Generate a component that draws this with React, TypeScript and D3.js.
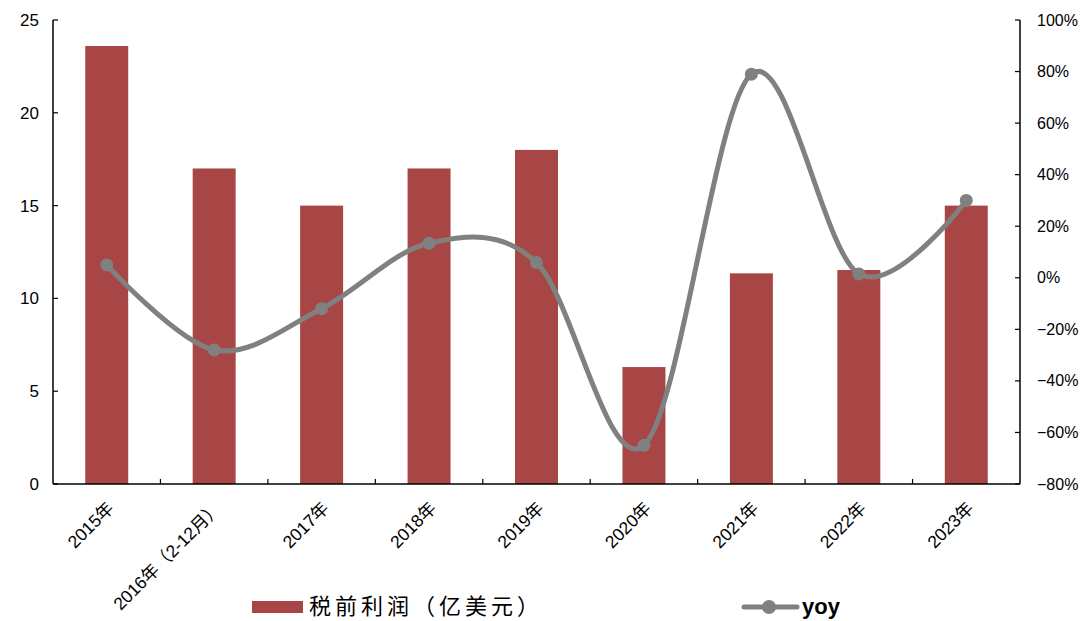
import React from "react";
import * as d3 from "d3";

const categories = [
  "2015年",
  "2016年（2-12月）",
  "2017年",
  "2018年",
  "2019年",
  "2020年",
  "2021年",
  "2022年",
  "2023年",
];
const profit = [23.6, 17, 15, 17, 18, 6.3, 11.35, 11.53, 15];
const yoy = [5.0, -28, -12, 13.4, 5.9, -65, 79, 1.5, 30];
const leftTicks = [0, 5, 10, 15, 20, 25];
const rightTicks = [-80, -60, -40, -20, 0, 20, 40, 60, 80, 100];
const barLabel = "税前利润（亿美元）";
const lineLabel = "yoy";

const W = 1082;
const H = 621;
const left = 53;
const right = 1020;
const top = 20;
const bottom = 484;

const BAR = "#A84646";
const LINE = "#808080";

export default function App() {
  const xb = d3.scaleBand<string>().domain(categories).range([left, right]);
  const yL = d3.scaleLinear().domain([0, 25]).range([bottom, top]);
  const yR = d3.scaleLinear().domain([-80, 100]).range([bottom, top]);
  const cx = (c: string) => (xb(c) as number) + xb.bandwidth() / 2;
  const barW = xb.bandwidth() * 0.4;

  const line = d3
    .line<number>()
    .x((_, i) => cx(categories[i]))
    .y((d) => yR(d))
    .curve(d3.curveCardinal.tension(0));

  const numFont = "'Liberation Sans', Arial, sans-serif";
  const cjkFont = "'Liberation Sans', 'Noto Sans CJK SC', sans-serif";

  return (
    <svg
      width={W}
      height={H}
      style={{ position: "absolute", left: 0, top: 0, display: "block", background: "#fff" }}
    >
      {/* bars */}
      {profit.map((v, i) => (
        <rect
          key={i}
          x={cx(categories[i]) - barW / 2}
          y={yL(v)}
          width={barW}
          height={bottom - yL(v)}
          fill={BAR}
        />
      ))}

      {/* axes */}
      <line x1={left} x2={left} y1={top} y2={bottom} stroke="#000" strokeWidth={1.5} />
      <line x1={right} x2={right} y1={top} y2={bottom} stroke="#000" strokeWidth={1.5} />
      <line x1={left} x2={right} y1={bottom} y2={bottom} stroke="#000" strokeWidth={1.5} />

      {leftTicks.map((t) => (
        <g key={"l" + t}>
          <line x1={left} x2={left + 5} y1={yL(t)} y2={yL(t)} stroke="#000" strokeWidth={1.2} />
          <text
            x={39}
            y={yL(t)}
            dy="0.35em"
            textAnchor="end"
            fontFamily={numFont}
            fontSize={17}
            fill="#000"
          >
            {t}
          </text>
        </g>
      ))}

      {rightTicks.map((t) => (
        <g key={"r" + t}>
          <line x1={right - 5} x2={right} y1={yR(t)} y2={yR(t)} stroke="#000" strokeWidth={1.2} />
          <text
            x={1037}
            y={yR(t)}
            dy="0.35em"
            textAnchor="start"
            fontFamily={numFont}
            fontSize={16}
            fill="#000"
          >
            {t < 0 ? "−" + Math.abs(t) + "%" : t + "%"}
          </text>
        </g>
      ))}

      {categories.slice(1).map((c) => (
        <line
          key={"xt" + c}
          x1={xb(c) as number}
          x2={xb(c) as number}
          y1={bottom}
          y2={bottom - 5}
          stroke="#000"
          strokeWidth={1.2}
        />
      ))}

      {categories.map((c) => {
        const ax = cx(c) - 1;
        const ay = 500;
        return (
          <text
            key={"xl" + c}
            x={ax}
            y={ay}
            dy="0.75em"
            textAnchor="end"
            transform={`rotate(-45 ${ax} ${ay})`}
            fontFamily={cjkFont}
            fontSize={17.5}
            fill="#000"
          >
            {c}
          </text>
        );
      })}

      {/* line */}
      <path d={line(yoy) || ""} fill="none" stroke={LINE} strokeWidth={5} strokeLinecap="round" />
      {yoy.map((v, i) => (
        <circle key={"p" + i} cx={cx(categories[i])} cy={yR(v)} r={6.5} fill={LINE} />
      ))}

      {/* legend */}
      <rect x={252} y={601} width={51} height={12} fill={BAR} />
      <text
        x={309}
        y={606}
        dy="0.36em"
        fontFamily="'Noto Sans CJK SC', sans-serif"
        fontSize={22}
        letterSpacing={4}
        fill="#000"
      >
        {barLabel}
      </text>
      <line x1={744} x2={797} y1={607} y2={607} stroke={LINE} strokeWidth={5} strokeLinecap="round" />
      <circle cx={769} cy={607} r={7} fill={LINE} />
      <text
        x={802}
        y={606}
        dy="0.36em"
        fontFamily="'Liberation Sans', Arial, sans-serif"
        fontSize={22}
        fontWeight="bold"
        fill="#000"
      >
        {lineLabel}
      </text>
    </svg>
  );
}
